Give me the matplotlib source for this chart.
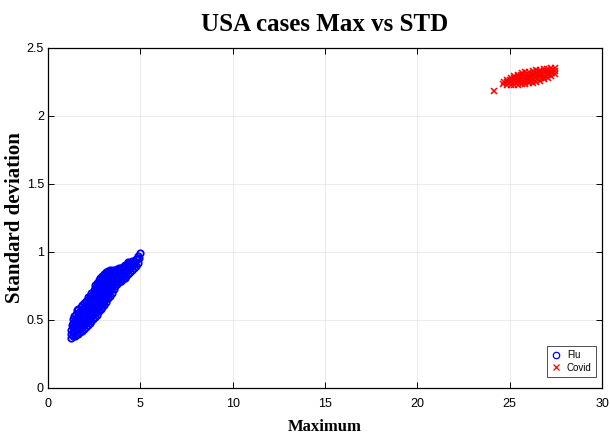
import matplotlib
matplotlib.use("Agg")
import matplotlib.pyplot as plt

# flu: maximum vs standard deviation (one column per line)
flu_max_a = [1.25, 1.27, 1.24, 1.28,
             1.45, 1.43, 1.47, 1.44, 1.46, 1.42,
             1.65, 1.63, 1.67, 1.64, 1.66, 1.62, 1.65,
             1.85, 1.83, 1.87, 1.84, 1.86, 1.82, 1.85,
             2.05, 2.03, 2.07, 2.04, 2.06, 2.02, 2.05,
             2.25, 2.23, 2.27, 2.24, 2.26, 2.22, 2.25, 2.27,
             2.45, 2.43, 2.47, 2.44, 2.46, 2.42, 2.45, 2.47,
             2.65, 2.63, 2.67, 2.64, 2.66, 2.62, 2.65, 2.67, 2.63,
             2.85, 2.83, 2.87, 2.84, 2.86, 2.82, 2.85, 2.87, 2.83,
             3.05, 3.03, 3.07, 3.04, 3.06, 3.02, 3.05, 3.07, 3.03,
             3.25, 3.23, 3.27, 3.24, 3.26, 3.22, 3.25, 3.27,
             3.45, 3.43, 3.47, 3.44, 3.46, 3.42, 3.45,
             3.65, 3.63, 3.67, 3.64, 3.66,
             3.85, 3.83, 3.87, 3.84, 3.86,
             4.05, 4.03, 4.07, 4.04, 4.06,
             4.25, 4.23, 4.27, 4.24, 4.26,
             4.45, 4.43, 4.47, 4.44,
             4.65, 4.63, 4.67,
             4.85, 4.83,
             4.98]
flu_std_a = [0.37, 0.40, 0.43, 0.46,
             0.38, 0.41, 0.44, 0.47, 0.50, 0.53,
             0.40, 0.43, 0.46, 0.49, 0.52, 0.55, 0.58,
             0.42, 0.45, 0.48, 0.51, 0.54, 0.57, 0.61,
             0.45, 0.48, 0.51, 0.54, 0.57, 0.60, 0.64,
             0.48, 0.51, 0.54, 0.57, 0.60, 0.63, 0.66, 0.68,
             0.51, 0.54, 0.57, 0.60, 0.63, 0.66, 0.69, 0.72,
             0.54, 0.57, 0.60, 0.63, 0.66, 0.69, 0.72, 0.75, 0.77,
             0.58, 0.61, 0.64, 0.67, 0.70, 0.73, 0.76, 0.79, 0.81,
             0.61, 0.64, 0.67, 0.70, 0.73, 0.76, 0.79, 0.82, 0.84,
             0.66, 0.69, 0.72, 0.75, 0.78, 0.81, 0.83, 0.86,
             0.70, 0.73, 0.76, 0.79, 0.82, 0.84, 0.86,
             0.75, 0.78, 0.81, 0.84, 0.87,
             0.78, 0.81, 0.84, 0.86, 0.88,
             0.80, 0.83, 0.86, 0.88, 0.89,
             0.82, 0.85, 0.88, 0.90, 0.91,
             0.85, 0.88, 0.90, 0.92,
             0.88, 0.91, 0.93,
             0.92, 0.95,
             0.99]
flu_max_b = [1.35, 1.33, 1.36, 1.34, 1.35,
             1.55, 1.53, 1.56, 1.54, 1.55, 1.53, 1.56,
             1.75, 1.73, 1.76, 1.74, 1.75, 1.73, 1.76,
             1.95, 1.93, 1.96, 1.94, 1.95, 1.93, 1.96,
             2.15, 2.13, 2.16, 2.14, 2.15, 2.13, 2.16, 2.14,
             2.35, 2.33, 2.36, 2.34, 2.35, 2.33, 2.36, 2.34,
             2.55, 2.53, 2.56, 2.54, 2.55, 2.53, 2.56, 2.54, 2.55,
             2.75, 2.73, 2.76, 2.74, 2.75, 2.73, 2.76, 2.74, 2.75,
             2.95, 2.93, 2.96, 2.94, 2.95, 2.93, 2.96, 2.94, 2.95,
             3.15, 3.13, 3.16, 3.14, 3.15, 3.13, 3.16, 3.14, 3.15,
             3.35, 3.33, 3.36, 3.34, 3.35, 3.33, 3.36, 3.34,
             3.55, 3.53, 3.56, 3.54, 3.55, 3.53,
             3.75, 3.73, 3.76, 3.74, 3.75,
             3.95, 3.93, 3.96, 3.94, 3.95,
             4.15, 4.13, 4.16, 4.14, 4.15,
             4.35, 4.33, 4.36, 4.34, 4.35,
             4.55, 4.53, 4.56, 4.54,
             4.75, 4.73, 4.76,
             4.92, 4.90]
flu_std_b = [0.385, 0.415, 0.445, 0.475, 0.505,
             0.395, 0.425, 0.455, 0.485, 0.515, 0.545, 0.57,
             0.415, 0.445, 0.475, 0.505, 0.535, 0.565, 0.595,
             0.435, 0.465, 0.495, 0.525, 0.555, 0.585, 0.625,
             0.465, 0.495, 0.525, 0.555, 0.585, 0.615, 0.645, 0.67,
             0.495, 0.525, 0.555, 0.585, 0.615, 0.645, 0.675, 0.70,
             0.525, 0.555, 0.585, 0.615, 0.645, 0.675, 0.705, 0.735, 0.755,
             0.565, 0.595, 0.625, 0.655, 0.685, 0.715, 0.745, 0.775, 0.795,
             0.595, 0.625, 0.655, 0.685, 0.715, 0.745, 0.775, 0.805, 0.825,
             0.635, 0.665, 0.695, 0.725, 0.755, 0.785, 0.815, 0.84, 0.855,
             0.68, 0.71, 0.74, 0.77, 0.80, 0.825, 0.85, 0.865,
             0.725, 0.755, 0.785, 0.815, 0.845, 0.865,
             0.765, 0.795, 0.825, 0.85, 0.875,
             0.79, 0.82, 0.85, 0.875, 0.885,
             0.81, 0.84, 0.87, 0.895, 0.905,
             0.835, 0.865, 0.89, 0.915, 0.925,
             0.865, 0.895, 0.915, 0.935,
             0.90, 0.93, 0.95,
             0.955, 0.97]

# covid
covid_max = [24.17,
             24.65, 24.67,
             24.85, 24.87, 24.83,
             25.05, 25.07, 25.03, 25.06,
             25.25, 25.27, 25.23, 25.26, 25.24,
             25.45, 25.47, 25.43, 25.46, 25.44, 25.45,
             25.65, 25.67, 25.63, 25.66, 25.64, 25.65,
             25.85, 25.87, 25.83, 25.86, 25.84, 25.85,
             26.05, 26.07, 26.03, 26.06, 26.04, 26.05,
             26.25, 26.27, 26.23, 26.26, 26.24, 26.25,
             26.45, 26.47, 26.43, 26.46, 26.44, 26.45,
             26.65, 26.67, 26.63, 26.66, 26.64, 26.65,
             26.85, 26.87, 26.83, 26.86, 26.84,
             27.05, 27.07, 27.03, 27.06, 27.04,
             27.25, 27.27, 27.23, 27.26,
             27.45, 27.43, 27.46]
covid_std = [2.185,
             2.235, 2.25,
             2.23, 2.25, 2.265,
             2.23, 2.25, 2.265, 2.28,
             2.23, 2.25, 2.265, 2.28, 2.295,
             2.23, 2.25, 2.265, 2.28, 2.295, 2.305,
             2.235, 2.255, 2.27, 2.285, 2.30, 2.315,
             2.235, 2.255, 2.27, 2.285, 2.30, 2.32,
             2.24, 2.26, 2.275, 2.29, 2.305, 2.325,
             2.245, 2.265, 2.28, 2.295, 2.31, 2.33,
             2.25, 2.27, 2.285, 2.30, 2.315, 2.335,
             2.26, 2.28, 2.295, 2.31, 2.325, 2.34,
             2.27, 2.29, 2.305, 2.32, 2.345,
             2.28, 2.30, 2.315, 2.33, 2.345,
             2.295, 2.315, 2.33, 2.35,
             2.31, 2.33, 2.35]

x_ticks = [0, 5, 10, 15, 20, 25, 30]
y_ticks = [0, 0.5, 1, 1.5, 2, 2.5]
y_tick_labels = ['0', '0.5', '1', '1.5', '2', '2.5']

serif = ['Liberation Serif', 'DejaVu Serif']
sans = ['Liberation Sans', 'DejaVu Sans']

flu_max = flu_max_a + flu_max_b
flu_std = flu_std_a + flu_std_b

fig = plt.figure(figsize=(6.1, 4.37), dpi=100)
ax = fig.add_axes([48 / 610, 49 / 437, 554 / 610, 340 / 437])

ax.plot(flu_max, flu_std, linestyle='none', marker='o', markersize=4.6,
        markerfacecolor='none', markeredgecolor='#0000ff', markeredgewidth=1.3,
        label='Flu')
ax.plot(covid_max, covid_std, linestyle='none', marker='x', markersize=4.0,
        markeredgecolor='#ff0000', markeredgewidth=1.1, label='Covid')

ax.set_xlim(0, 30)
ax.set_ylim(0, 2.5)
ax.set_xticks(x_ticks)
ax.set_xticklabels([str(t) for t in x_ticks], family=sans, fontsize=9)
ax.set_yticks(y_ticks)
ax.set_yticklabels(y_tick_labels, family=sans, fontsize=9)

ax.grid(True, color='#e6e6e6', linewidth=0.6)
ax.set_axisbelow(True)
ax.tick_params(direction='in', length=4, width=0.7, top=True, right=True,
               colors='black')
ax.tick_params(axis='x', pad=7)
ax.tick_params(axis='y', pad=3)
for s in ax.spines.values():
    s.set_linewidth(0.9)
    s.set_color('black')

ax.set_title('USA cases Max vs STD', family=serif, fontweight='bold',
             fontsize=18, pad=12)
ax.set_xlabel('Maximum', family=serif, fontweight='bold', fontsize=12,
              labelpad=7)
ax.set_ylabel('Standard deviation', family=serif, fontweight='bold',
              fontsize=15, labelpad=1)

leg = ax.legend(loc='lower right', bbox_to_anchor=(0.989, 0.032),
                borderaxespad=0, fancybox=False, framealpha=1,
                edgecolor='#333333', prop={'family': sans, 'size': 7},
                handlelength=1.0, handletextpad=0.6, borderpad=0.45,
                labelspacing=0.25)
leg.get_frame().set_linewidth(0.6)
for h in leg.legend_handles:
    h.set_markeredgewidth(0.9)

fig.savefig('out.png', dpi=100)
